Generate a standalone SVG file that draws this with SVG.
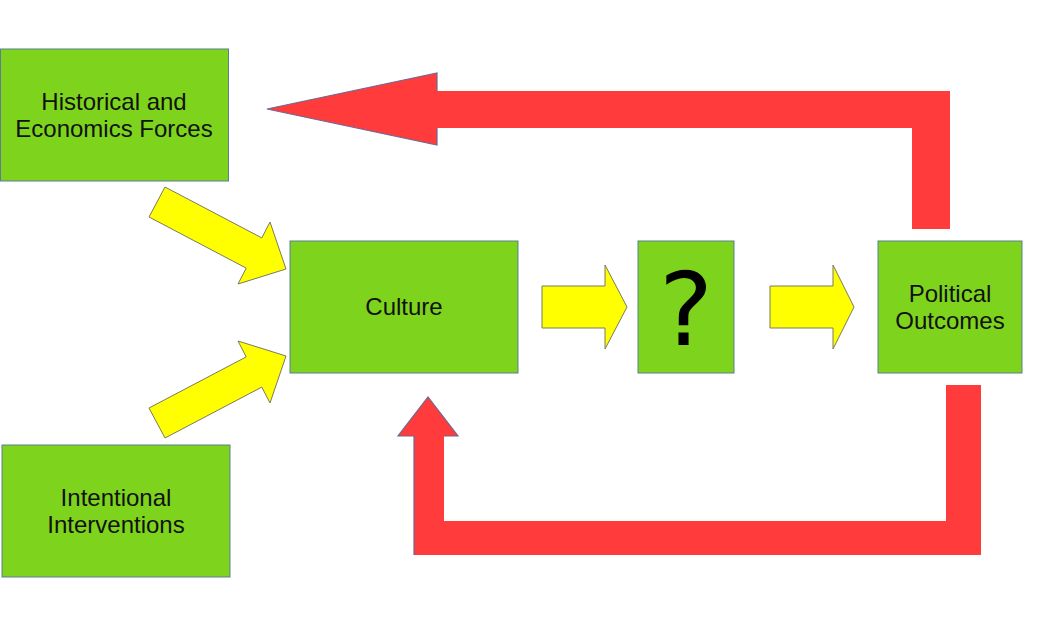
<svg xmlns="http://www.w3.org/2000/svg" width="1056" height="622" viewBox="0 0 1056 622">
<style>
.box{fill:#7ed41c;stroke:#5b7f8f;stroke-width:1}
.lbl{font-family:"Liberation Sans",Arial,sans-serif;font-size:24px;fill:#111;text-anchor:middle}
.ya{fill:#ffff00;stroke:#7a7a60;stroke-width:1}
.ra{fill:#ff3b3b;stroke:none}
.re{fill:none;stroke:#6f6890;stroke-width:1.2}
</style>
<rect width="1056" height="622" fill="#ffffff"/>
<g id="connectors">
<polygon class="ya" points="165,187 261.8,237.9 270,222 286,269 238,284 246.2,268.1 149,217"/>
<polygon class="ya" points="165,438 261.8,387.1 270,403 286,356 238,341 246.2,356.9 149,408"/>
<polygon class="ya" points="542,286 605,286 605,265 627,307 605,349 605,328 542,328"/>
<polygon class="ya" points="770,286 833,286 833,265 854,307 833,349 833,328 770,328"/>
<polygon class="ra" points="267,109 437,73 437,91 950,91 950,229 912,229 912,128 437,128 437,145"/>
<polyline class="re" points="437,91 437,73 267,109 437,145 437,128"/>
<polygon class="ra" points="428,397 458,436 444,436 444,521 946,521 946,385 981,385 981,555 414,555 414,436 398,436"/>
<polyline class="re" points="414,555 414,436 398,436 428,397 458,436 444,436"/>
</g>
<g id="historical">
<rect class="box" x="0.5" y="49" width="228" height="132"/>
<text class="lbl" x="114" y="110">Historical and</text>
<text class="lbl" x="114" y="137">Economics Forces</text>
</g>
<g id="intentional">
<rect class="box" x="2" y="445" width="228" height="132"/>
<text class="lbl" x="116" y="506">Intentional</text>
<text class="lbl" x="116" y="533">Interventions</text>
</g>
<g id="culture">
<rect class="box" x="290" y="241" width="228" height="132"/>
<text class="lbl" x="404" y="315">Culture</text>
</g>
<g id="question">
<rect class="box" x="638" y="241" width="96" height="132"/>
<text x="686" y="345" style="font-family:'DejaVu Sans',sans-serif;font-size:102px;fill:#000;text-anchor:middle">?</text>
</g>
<g id="political">
<rect class="box" x="878" y="241" width="144" height="132"/>
<text class="lbl" x="950" y="302">Political</text>
<text class="lbl" x="950" y="329">Outcomes</text>
</g>
</svg>
